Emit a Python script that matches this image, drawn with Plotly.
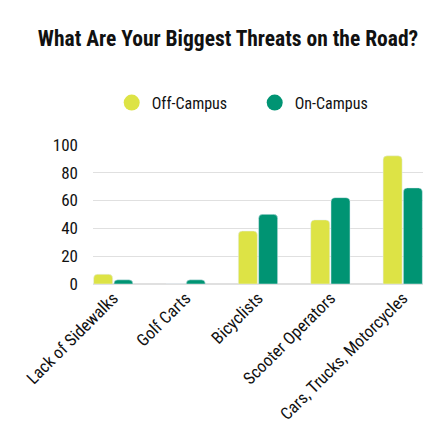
import plotly.graph_objects as go

categories = ["Lack of Sidewalks", "Golf Carts", "Bicyclists", "Scooter Operators", "Cars, Trucks, Motorcycles"]
off_campus = [7, 0, 38, 46, 92]
on_campus = [3, 3, 50, 62, 69]
series_names = ["Off-Campus", "On-Campus"]
colors = ["#dde345", "#009473"]
tick_vals = [0, 20, 40, 60, 80, 100]

FONT = "Roboto Condensed, Roboto, sans-serif"

fig = go.Figure()
for name, vals, col in zip(series_names, [off_campus, on_campus], colors):
    fig.add_trace(go.Bar(x=categories, y=vals, name=name, marker_color=col,
                         showlegend=False))
for name, col in zip(series_names, colors):
    fig.add_trace(go.Scatter(x=[None], y=[None], mode="markers", name=name,
                             marker=dict(color=col, size=18, symbol="circle")))

fig.update_layout(
    width=440, height=440,
    paper_bgcolor="white", plot_bgcolor="white",
    font=dict(family=FONT, color="#111111", size=16),
    title=dict(text="<b>What Are Your Biggest Threats on the Road?</b>",
               x=0.5, xanchor="center", y=0.93, yanchor="middle",
               font=dict(family=FONT, size=21.5, color="#111111")),
    margin=dict(l=85, r=25, t=136, b=164, autoexpand=False),
    barmode="group", bargap=0.44, bargroupgap=0.06,
    barcornerradius=4,
    legend=dict(orientation="h", x=0.49, xanchor="center", y=1.295, yanchor="middle",
                font=dict(family=FONT, size=16, color="#111111"),
                itemwidth=30, tracegroupgap=0,
                entrywidth=98, entrywidthmode="pixels"),
    xaxis=dict(tickangle=-45, showgrid=False, showline=False, ticks="",
               range=[-0.28, 4.28], automargin=False,
               tickfont=dict(family=FONT, size=17, color="#111111")),
    yaxis=dict(range=[0, 100.5], tickvals=tick_vals, showgrid=True,
               gridcolor="#e0e0e0", gridwidth=1, zeroline=True,
               zerolinecolor="#e0e0e0", ticks="", ticklabelstandoff=14,
               automargin=False,
               tickfont=dict(family=FONT, size=17, color="#111111")),
)
fig.write_html("out.html")
